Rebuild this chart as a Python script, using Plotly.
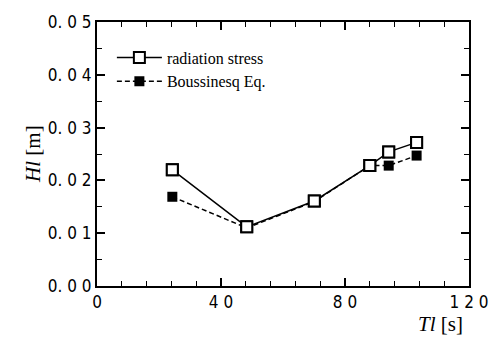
import plotly.graph_objects as go

period = [24.3, 48.3, 70.1, 88.0, 94.1, 103.1]
radiation_stress = [0.0220, 0.0112, 0.0161, 0.0228, 0.0254, 0.0272]
boussinesq = [0.0169, 0.0110, 0.0160, 0.0228, 0.0228, 0.0247]

x_ticks = [0, 40, 80, 120]
x_ticktext = ["0", "4 0", "8 0", "1 2 0"]
y_ticks = [0.00, 0.01, 0.02, 0.03, 0.04, 0.05]
y_ticktext = ["0. 0 0", "0. 0 1", "0. 0 2", "0. 0 3", "0. 0 4", "0. 0 5"]

tickfont = dict(family="Liberation Sans Narrow, Arial Narrow, DejaVu Sans Condensed", size=17, color="black")
serif = "Liberation Serif, Times New Roman, serif"

fig = go.Figure()
fig.add_trace(go.Scatter(
    x=period, y=radiation_stress, mode="lines+markers", name="radiation stress",
    line=dict(color="black", width=1.5),
    marker=dict(symbol="square", size=11, color="white", line=dict(width=2, color="black")),
))
fig.add_trace(go.Scatter(
    x=period, y=boussinesq, mode="lines+markers", name="Boussinesq Eq.",
    line=dict(color="black", width=1.5, dash="5px,3px"),
    marker=dict(symbol="square", size=10, color="black"),
))
# redraw open markers on top
fig.add_trace(go.Scatter(
    x=period, y=radiation_stress, mode="markers", showlegend=False,
    marker=dict(symbol="square", size=11, color="white", line=dict(width=2, color="black")),
))

axis_common = dict(
    showgrid=False, zeroline=False, showline=True, linecolor="black", linewidth=2,
    ticks="inside", ticklen=8, tickwidth=1.5, tickcolor="black", mirror="ticks",
    tickfont=tickfont,
)
fig.update_xaxes(range=[0, 120], tickvals=x_ticks, ticktext=x_ticktext,
                 minor=dict(dtick=8, ticks="inside", ticklen=5, tickcolor="black", tickwidth=1.2),
                 **axis_common)
fig.update_yaxes(range=[0, 0.05], tickvals=y_ticks, ticktext=y_ticktext,
                 minor=dict(dtick=0.005, ticks="inside", ticklen=5, tickcolor="black", tickwidth=1.2),
                 **axis_common)

fig.update_layout(
    width=500, height=339,
    margin=dict(l=97, r=23, t=16, b=53),
    plot_bgcolor="white", paper_bgcolor="white",
    legend=dict(x=0.04, y=0.93, xanchor="left", yanchor="top", bgcolor="rgba(0,0,0,0)",
                font=dict(family=serif, size=16, color="black"), tracegroupgap=0, itemwidth=45),
    annotations=[
        dict(text="<i>Hl</i> [m]", xref="paper", yref="paper", x=-0.21, y=0.5,
             textangle=-90, showarrow=False, font=dict(family=serif, size=21, color="black")),
        dict(text="<i>Tl</i> [s]", xref="paper", yref="paper", x=0.99, y=-0.09,
             xanchor="right", yanchor="top", showarrow=False,
             font=dict(family=serif, size=21, color="black")),
    ],
)

fig.write_html("out.html")
